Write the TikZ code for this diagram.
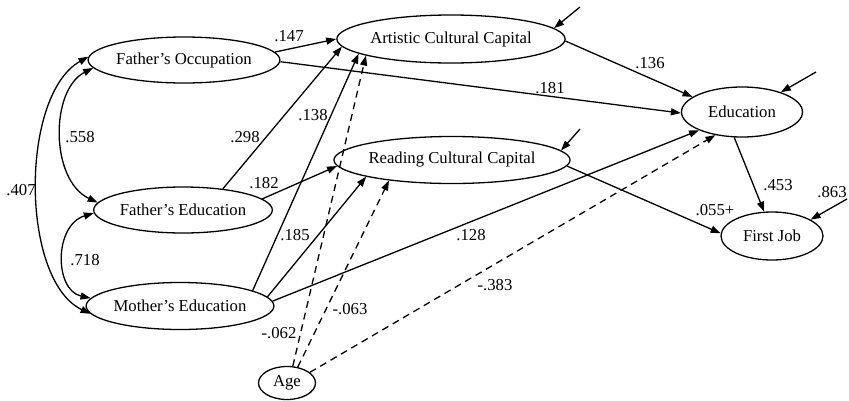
\documentclass[tikz,border=0pt]{standalone}
\usepackage{fontspec}
\setmainfont{Liberation Serif}
\usetikzlibrary{arrows.meta,shapes.geometric}
\begin{document}
\begin{tikzpicture}[x=1pt,y=-1pt,
  txt/.style={font=\fontsize{16.7}{20}\selectfont},
  ell/.style={draw, ellipse, line width=1.3pt, inner sep=0pt, txt},
  tip/.tip={Triangle[length=10pt,width=7pt]},
  arr/.style={line width=1.3pt, -tip},
  dsh/.style={arr, dash pattern=on 7pt off 5pt},
  cov/.style={line width=1.3pt, tip-tip},
  lbl/.style={txt, inner sep=0pt}]
\useasboundingbox (0,0) rectangle (849,400);

% nodes
\node[ell, minimum width=168pt, minimum height=46pt] (FO) at (184,60) {Father’s Occupation};
\node[ell, minimum width=168pt, minimum height=46pt] (FE) at (183,210) {Father’s Education};
\node[ell, minimum width=167pt, minimum height=47pt] (ME) at (180,306) {Mother’s Education};
\node[ell, minimum width=57pt, minimum height=33pt] (Age) at (287,383) {Age};
\node[ell, minimum width=209pt, minimum height=48pt] (ACC) at (451,39) {Artistic Cultural Capital};
\node[ell, minimum width=210pt, minimum height=47pt] (RCC) at (452,160) {Reading Cultural Capital};
\node[ell, minimum width=121pt, minimum height=50pt] (Edu) at (742,112) {Education};
\node[ell, minimum width=102pt, minimum height=48pt] (FJ) at (772,236) {First Job};

% error terms
\coordinate (eA) at (580,7);
\coordinate (eR) at (580,129);
\coordinate (eE) at (816,72);
\coordinate (eF) at (847,199);

% paths
\draw[arr] (FO.5.4) -- (ACC.180);
\draw[arr] (FO.-1) -- (Edu.181);
\draw[arr] (ACC.-1.5) -- (Edu.163);
\draw[arr] (FE.28) -- (ACC.184);
\draw[arr] (FE.8.3) -- (RCC.183);
\draw[arr] (ME.12.2) -- (ACC.189.1);
\draw[arr] (ME.6.3) -- (RCC.191.2);
\draw[arr] (ME.3.7) -- (Edu.203.2);
\draw[dsh] (Age.71.2) -- (ACC.191);
\draw[dsh] (Age.56.5) -- (RCC.198.8);
\draw[dsh] (Age.25.3) -- (Edu.221.1);
\draw[arr] (RCC.-3.9) -- (FJ.177.2);
\draw[arr] (Edu.253.2) -- (FJ.108.9);

\draw[arr] (eA) -- (ACC.6);
\draw[arr] (eR) -- (RCC.5.9);
\draw[arr] (eE) -- (Edu.27.5);
\draw[arr] (eF) -- (FJ.23);

% covariances
\draw[cov] (FO.185.8) .. controls (50,90) and (50,180) .. (FE.175);
\draw[cov] (FO.178.6) .. controls (20,95) and (20,280) .. (ME.185);
\draw[cov] (FE.182) .. controls (54,225) and (54,290) .. (ME.175.7);

% labels
\node[lbl] (l147) at (289,36) {.147};
\node[lbl] (l181) at (550,88) {.181};
\node[lbl] (l136) at (650,63) {.136};
\node[lbl] (l298) at (245,137) {.298};
\node[lbl] (l138) at (313,115) {.138};
\node[lbl] (l182) at (264,183) {.182};
\node[lbl] (l185) at (295,235) {.185};
\node[lbl] (l128) at (471,235) {.128};
\node[lbl] (l062) at (279,333) {-.062};
\node[lbl] (l063) at (350,309) {-.063};
\node[lbl] (l383) at (495,285) {-.383};
\node[lbl] (l055) at (715,210) {.055+};
\node[lbl] (l453) at (778,185) {.453};
\node[lbl] (l863) at (832,192) {.863};
\node[lbl] (l558) at (80,137) {.558};
\node[lbl] (l407) at (21,190) {.407};
\node[lbl] (l718) at (85,260) {.718};
\end{tikzpicture}
\end{document}
